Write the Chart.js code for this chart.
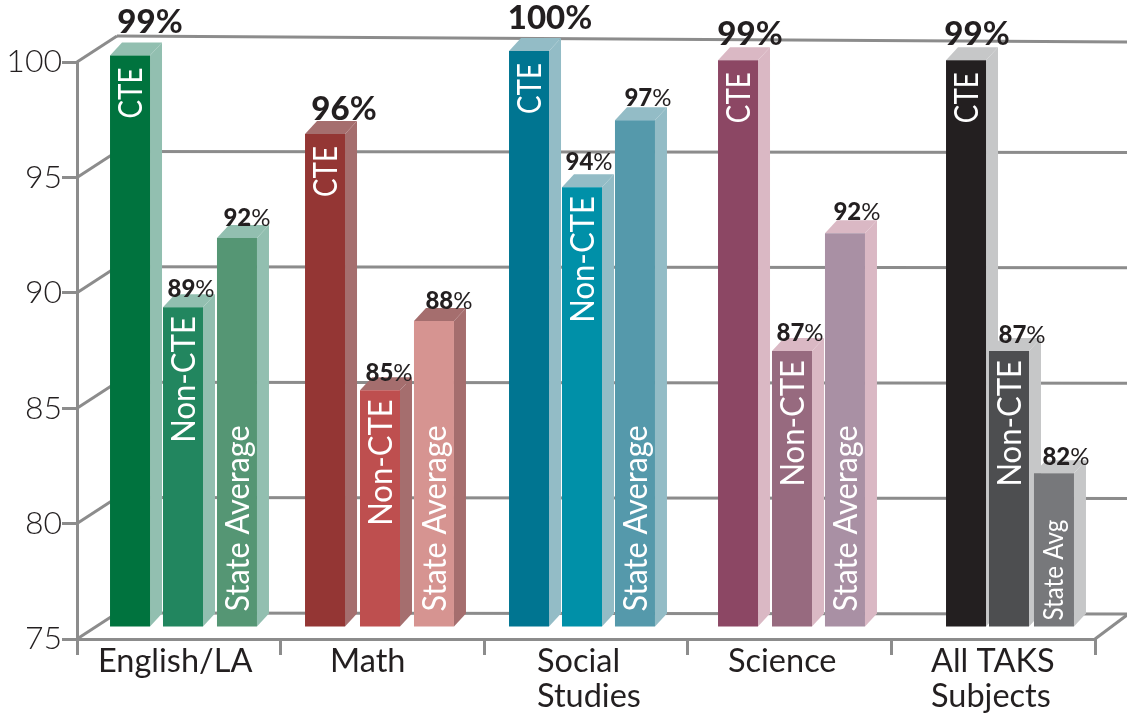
<!DOCTYPE html>
<html>
<head>
<meta charset="utf-8">
<title>TAKS passing rates</title>
<script src="https://cdn.jsdelivr.net/npm/chart.js@4"></script>
<style>
  html, body { margin: 0; padding: 0; background: #fff; }
  canvas { display: block; }
</style>
</head>
<body>
<canvas id="taksChart" width="1127" height="715"></canvas>
<script>
// Values (bar heights) and the printed percent labels
const categories = ['English/LA', 'Math', 'Social Studies', 'Science', 'All TAKS Subjects'];
const seriesNames = ['CTE', 'Non-CTE', 'State Average'];
const cteValues = [99.8, 96.4, 100, 99.6, 99.6];
const nonCteValues = [88.9, 85.3, 94.1, 87, 87];
const stateValues = [91.9, 88.3, 97, 92.1, 81.7];
const ctePrinted = ['99', '96', '100', '99', '99'];
const nonCtePrinted = ['89', '85', '94', '87', '87'];
const statePrinted = ['92', '88', '97', '92', '82'];
const yTicks = [75, 80, 85, 90, 95, 100];

// Colours per category: CTE, Non-CTE, State, then the side face
const cteColors = ['#00733e', '#943634', '#007591', '#8c4764', '#231f20'];
const nonCteColors = ['#22865f', '#be4f4f', '#0090a8', '#976a7f', '#4d4e50'];
const stateColors = ['#559674', '#d69491', '#5599ab', '#a990a4', '#77787b'];
const sideColors = ['#92bfb0', '#a56e6e', '#93bcc6', '#dab8c4', '#c6c7c8'];

const GRID = '#8c8c8c';
const INK = '#231f20';
const FONT = 'Lato, "Open Sans", sans-serif';

// Hand layout: the artwork is not evenly spaced
const barLift = 11;
const depthX = 12, depthY = -13;
const wallX = 40, wallY = -26;
const groupShift = [
  [4.7, -3.9, -3.5, 1.9, 26.3],
  [4.2, -2.4, -4, 2.4, 15.8],
  [4.7, -1.9, -4.5, 1.9, 7.3],
];
const pctShift = [[20, 19, 21, 12, 11], [8, 9, 7, 8, 13], [10, 15, 13, 12, 12]];
const pctLift = [[23, 14, 22, 15, 15], [10, 9, 17, 10, 8], [12, 12, 14, 13, 8]];
const nameSqueeze = [0.84, 0.94, 0.93];
const nameLeft = [98, 330, 537, 728, 931];
const nameLines = [['English/LA'], ['Math'], ['Social', 'Studies'], ['Science'], ['All TAKS', 'Subjects']];

function line(ctx, x1, y1, x2, y2) {
  ctx.beginPath();
  ctx.moveTo(x1, y1);
  ctx.lineTo(x2, y2);
  ctx.stroke();
}

function poly(ctx, pts) {
  ctx.beginPath();
  pts.forEach((p, i) => i ? ctx.lineTo(p[0], p[1]) : ctx.moveTo(p[0], p[1]));
  ctx.closePath();
  ctx.fill();
}

// Fake 3D: back wall, side faces, printed labels
const fake3d = {
  id: 'fake3d',
  afterDatasetsUpdate(chart) {
    chart.data.datasets.forEach((ds, s) => {
      chart.getDatasetMeta(s).data.forEach((bar, i) => {
        bar.x += groupShift[s][i];
        bar.y -= barLift;
        bar.base -= barLift;
      });
    });
  },
  beforeDatasetsDraw(chart) {
    const { ctx, chartArea, scales: { y } } = chart;
    ctx.save();
    ctx.strokeStyle = GRID;
    ctx.lineWidth = 3;
    yTicks.forEach(v => {
      const py = y.getPixelForValue(v);
      line(ctx, chartArea.left, py, chartArea.left + wallX, py + wallY);
      line(ctx, chartArea.left + wallX, py + wallY, chart.width, py + wallY + (v === 100 ? 6 : 1));
    });
    line(ctx, chartArea.right, chartArea.bottom, chart.width, chartArea.bottom + wallY + 2);

    chart.data.datasets.forEach((ds, s) => {
      chart.getDatasetMeta(s).data.forEach((bar, i) => {
        const l = bar.x - bar.width / 2, r = bar.x + bar.width / 2;
        ctx.fillStyle = sideColors[i];
        poly(ctx, [[r, bar.y], [r + depthX, bar.y + depthY], [r + depthX, bar.base + depthY], [r, bar.base]]);
        poly(ctx, [[l, bar.y], [l + depthX, bar.y + depthY], [r + depthX, bar.y + depthY], [r, bar.y]]);
      });
    });
    ctx.restore();
  },
  afterDatasetsDraw(chart) {
    const { ctx } = chart;
    const printed = [ctePrinted, nonCtePrinted, statePrinted];
    chart.data.datasets.forEach((ds, s) => {
      chart.getDatasetMeta(s).data.forEach((bar, i) => {
        // name running up the bar
        const short = s === 2 && i === 4;
        const name = short ? 'State Avg' : seriesNames[s];
        const size = short ? 26 : 33;
        ctx.save();
        ctx.translate(bar.x + size * 0.36, s === 2 ? bar.base - (short ? 6 : 15) : bar.y + (s === 0 ? 12 : 9));
        ctx.rotate(-Math.PI / 2);
        ctx.scale(nameSqueeze[s], 1);
        ctx.font = `${size}px ${FONT}`;
        ctx.fillStyle = '#fff';
        ctx.textAlign = s === 2 ? 'left' : 'right';
        ctx.textBaseline = 'alphabetic';
        ctx.fillText(name, 0, 0);
        ctx.restore();

        // percent above the bar: bold digits, lighter sign
        const big = s === 0;
        const digits = printed[s][i];
        ctx.save();
        ctx.fillStyle = INK;
        ctx.textBaseline = 'alphabetic';
        ctx.textAlign = 'left';
        const fontD = `900 ${big ? 33 : 24}px ${FONT}`;
        const fontP = `${big ? 700 : 400} ${big ? 33 : 24}px ${FONT}`;
        ctx.font = fontD;
        const wd = ctx.measureText(digits).width;
        ctx.font = fontP;
        const wp = ctx.measureText('%').width;
        const x0 = bar.x + pctShift[s][i] - (wd + wp) / 2;
        const base = bar.y - pctLift[s][i];
        ctx.font = fontD;
        ctx.fillText(digits, x0, base);
        ctx.font = fontP;
        ctx.fillText('%', x0 + wd, base);
        ctx.restore();
      });
    });

    // category names, left aligned inside each group
    ctx.save();
    ctx.font = `32.5px ${FONT}`;
    ctx.fillStyle = INK;
    ctx.textAlign = 'left';
    ctx.textBaseline = 'alphabetic';
    nameLines.forEach((lines, i) => {
      lines.forEach((t, n) => ctx.fillText(t, nameLeft[i], 672 + n * 35));
    });
    ctx.restore();
  },
};

new Chart(document.getElementById('taksChart'), {
  type: 'bar',
  data: {
    labels: categories,
    datasets: [
      { label: seriesNames[0], data: cteValues, backgroundColor: cteColors, base: 75 },
      { label: seriesNames[1], data: nonCteValues, backgroundColor: nonCteColors, base: 75 },
      { label: seriesNames[2], data: stateValues, backgroundColor: stateColors, base: 75 },
    ],
  },
  options: {
    responsive: false,
    animation: false,
    events: [],
    clip: false,
    categoryPercentage: 0.788,
    barPercentage: 0.748,
    layout: { padding: { top: 62, right: 32, left: 0, bottom: 0 } },
    plugins: { legend: { display: false }, tooltip: { enabled: false } },
    scales: {
      x: {
        afterFit: s => { s.height = 76; },
        grid: { drawOnChartArea: false, tickLength: 16, color: GRID, lineWidth: 3 },
        border: { color: GRID, width: 3 },
        ticks: { display: false },
      },
      y: {
        min: 75, max: 100,
        afterFit: s => { s.width = 77; },
        grid: { drawOnChartArea: false, tickLength: 15, color: GRID, lineWidth: 3 },
        border: { color: GRID, width: 3 },
        ticks: { stepSize: 5, padding: 0, color: INK, font: { family: FONT, size: 32, weight: '300' } },
      },
    },
  },
  plugins: [fake3d],
});
</script>
</body>
</html>
